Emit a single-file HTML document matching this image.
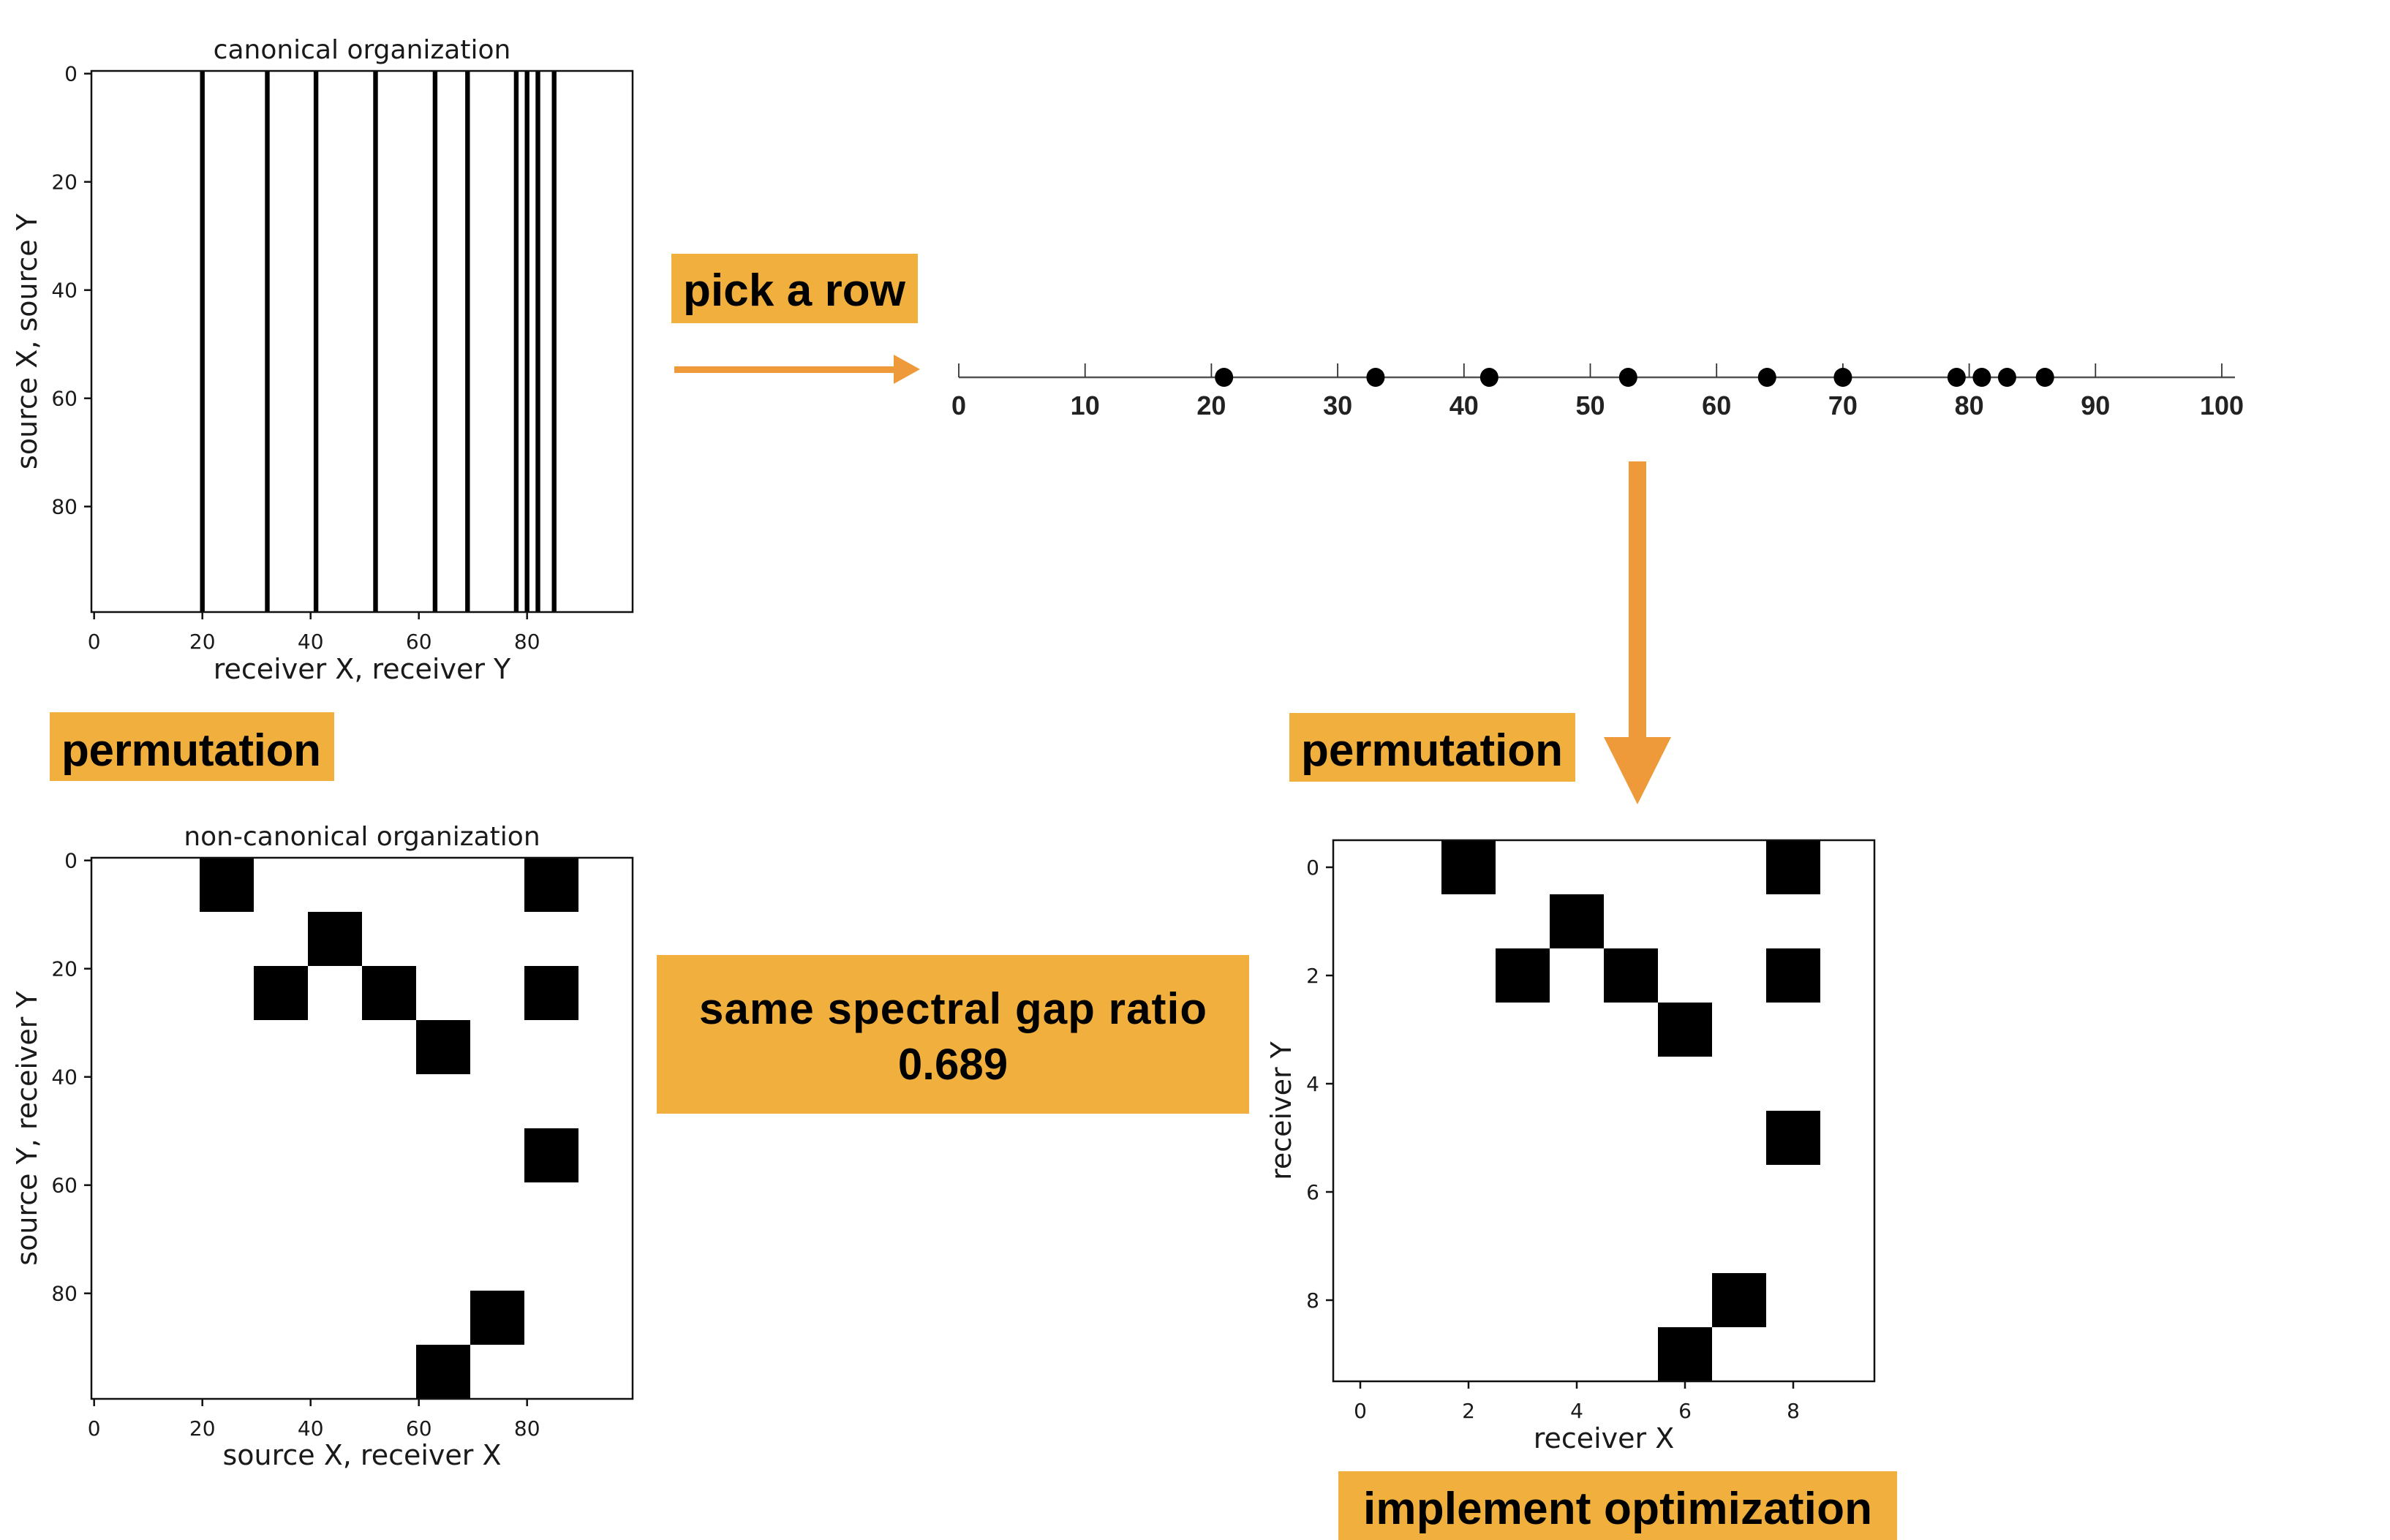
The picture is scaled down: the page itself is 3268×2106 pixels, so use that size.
<!DOCTYPE html>
<html><head><meta charset="utf-8"><style>
html,body{margin:0;padding:0;background:#fff;}
svg{display:block;}
.tick{font-family:"DejaVu Sans","Liberation Sans",sans-serif;font-size:28px;fill:#1a1a1a;}
.ttl{font-family:"DejaVu Sans","Liberation Sans",sans-serif;font-size:36px;fill:#1a1a1a;}
.lab{font-family:"DejaVu Sans","Liberation Sans",sans-serif;font-size:38px;fill:#1a1a1a;}
.box{font-family:"Liberation Sans",sans-serif;font-weight:bold;font-size:62px;fill:#000;}
.nl{font-family:"Liberation Sans",sans-serif;font-weight:bold;font-size:36px;fill:#222;}
</style></head><body>
<svg id="s" width="3268" height="2106" viewBox="0 0 3268 2106" xmlns="http://www.w3.org/2000/svg">
  <rect x="918" y="347" width="337" height="95" fill="#F1B03E"/>
  <text class="box" x="934" y="418" textLength="304">pick a row</text>
  <rect x="68" y="974" width="389" height="94" fill="#F1B03E"/>
  <text class="box" x="84" y="1047" textLength="355">permutation</text>
  <rect x="1763" y="975" width="391" height="94" fill="#F1B03E"/>
  <text class="box" x="1779" y="1047" textLength="358">permutation</text>
  <rect x="898" y="1306" width="810" height="217" fill="#F1B03E"/>
  <text class="box" x="1303" y="1400" text-anchor="middle" textLength="694" style="font-size:60px">same spectral gap ratio</text>
  <text class="box" x="1303" y="1476" text-anchor="middle" style="font-size:60px">0.689</text>
  <rect x="1830" y="2012" width="764" height="99" fill="#F1B03E"/>
  <text class="box" x="2212" y="2084" text-anchor="middle" textLength="696">implement optimization</text>
  <g>
    <rect x="922" y="501" width="305" height="9" fill="#EF9A3A"/>
    <polygon points="1222,485 1258,505 1222,525" fill="#EF9A3A"/>
  </g>
  <g>
    <rect x="2227" y="631" width="24" height="380" fill="#EF9A3A"/>
    <polygon points="2193,1008 2285,1008 2239,1100" fill="#EF9A3A"/>
  </g>
  <g id="g1"></g>
  <g id="g2"></g>
  <g id="g3"></g>
  <g id="g4"></g>
</svg>
<script>
// ---- data ----
const canonicalColumns = [20, 32, 41, 52, 63, 69, 78, 80, 82, 85];
const rowPoints = [21, 33, 42, 53, 64, 70, 79, 81, 83, 86];
const numberLineTicks = [0, 10, 20, 30, 40, 50, 60, 70, 80, 90, 100];
const blockRows = [0, 0, 1, 2, 2, 2, 3, 5, 8, 9];
const blockCols = [2, 8, 4, 3, 5, 8, 6, 8, 7, 6];
const bigTicks = [0, 20, 40, 60, 80];
const smallTicks = [0, 2, 4, 6, 8];

const NS = "http://www.w3.org/2000/svg";
function mk(parent, tag, attrs, text) {
  const e = document.createElementNS(NS, tag);
  for (const k in attrs) e.setAttribute(k, attrs[k]);
  if (text !== undefined) e.textContent = text;
  parent.appendChild(e);
  return e;
}

function axes(g, x0, y0, size, n, ticks, title, xlab, ylab, titleY, xlabY, ylabX) {
  const c = size / n;
  const sx = v => x0 + (v + 0.5) * c;
  const sy = v => y0 + (v + 0.5) * c;
  const frame = mk(g, 'rect', {x: x0, y: y0, width: size, height: size, fill: 'none', stroke: '#111', 'stroke-width': 2.5});
  
  
  ticks.forEach(t => {
    mk(g, 'line', {x1: sx(t), x2: sx(t), y1: y0 + size, y2: y0 + size + 10, stroke: '#111', 'stroke-width': 2.5});
    const tx = mk(g, 'text', {class: 'tick', x: sx(t), y: y0 + size + 50, 'text-anchor': 'middle'}, String(t));
    
    
    mk(g, 'line', {x1: x0 - 10, x2: x0, y1: sy(t), y2: sy(t), stroke: '#111', 'stroke-width': 2.5});
    const ty = mk(g, 'text', {class: 'tick', x: x0 - 19, y: sy(t) + 10, 'text-anchor': 'end'}, String(t));
    
    
  });
  if (title) {
    const tt = mk(g, 'text', {class: 'ttl', x: x0 + size / 2, y: titleY, 'text-anchor': 'middle'}, title);
    
    
  }
  const xl = mk(g, 'text', {class: 'lab', x: x0 + size / 2, y: xlabY, 'text-anchor': 'middle'}, xlab);
  
  
  const cy = y0 + size / 2;
  const yl = mk(g, 'text', {class: 'lab', x: ylabX, y: cy, 'text-anchor': 'middle', transform: `rotate(-90 ${ylabX} ${cy})`}, ylab);
  
  
}

(function () {
  const g = document.getElementById('g1');
  const x0 = 125, y0 = 97, size = 740, n = 100, c = size / n;
  canonicalColumns.forEach(v => {
    const r = mk(g, 'rect', {x: x0 + v * c + 0.5, y: y0, width: c - 1, height: size, fill: '#000'});
    
    
  });
  axes(g, x0, y0, size, n, bigTicks, 'canonical organization', 'receiver X, receiver Y', 'source X, source Y', 80, 928, 50);
})();

(function () {
  const g = document.getElementById('g2');
  const X0 = 1311, X1 = 3038, Y = 516;
  const sx = v => X0 + v / 100 * (X1 - X0);
  mk(g, 'line', {x1: X0, x2: 3056, y1: Y, y2: Y, stroke: '#555', 'stroke-width': 2.5});
  numberLineTicks.forEach(t => {
    mk(g, 'line', {x1: sx(t), x2: sx(t), y1: Y - 19, y2: Y, stroke: '#333', 'stroke-width': 1.8});
    const tx = mk(g, 'text', {class: 'nl', x: sx(t), y: Y + 51, 'text-anchor': 'middle'}, String(t));
    
    
  });
  rowPoints.forEach(v => {
    const p = mk(g, 'ellipse', {cx: sx(v), cy: Y, rx: 12.5, ry: 13, fill: '#000'});
    
    
  });
})();

(function () {
  const g = document.getElementById('g3');
  const x0 = 125, y0 = 1173, size = 740, n = 100, c = size / n;
  blockRows.forEach((r, i) => {
    const b = mk(g, 'rect', {x: x0 + blockCols[i] * 10 * c, y: y0 + r * 10 * c, width: 10 * c, height: 10 * c, fill: '#000'});
    
    
  });
  axes(g, x0, y0, size, n, bigTicks, 'non-canonical organization', 'source X, receiver X', 'source Y, receiver Y', 1156, 2003, 50);
})();

(function () {
  const g = document.getElementById('g4');
  const x0 = 1823, y0 = 1149, size = 740, n = 10, c = size / n;
  blockRows.forEach((r, i) => {
    const b = mk(g, 'rect', {x: x0 + blockCols[i] * c, y: y0 + r * c, width: c, height: c, fill: '#000'});
    
    
  });
  axes(g, x0, y0, size, n, smallTicks, '', 'receiver X', 'receiver Y', 0, 1980, 1765);
})();
</script>
</body></html>
